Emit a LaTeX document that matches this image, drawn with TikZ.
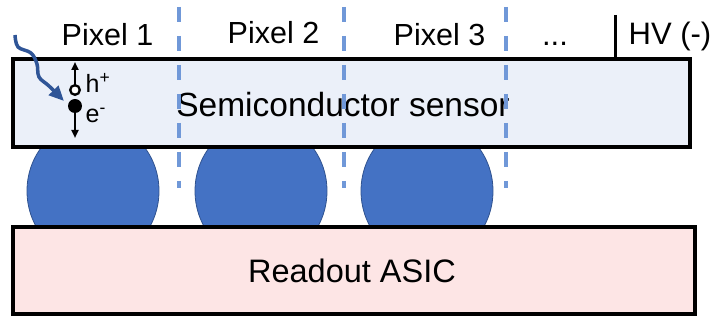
\documentclass[tikz,border=0pt]{standalone}
\usepackage{fontspec}
\setmainfont{Liberation Sans}
\usetikzlibrary{arrows.meta}
\definecolor{bumpfill}{HTML}{4472C4}
\definecolor{bumpline}{HTML}{2F528F}
\definecolor{sensorfill}{HTML}{EBF0F9}
\definecolor{asicfill}{HTML}{FDE5E5}
\definecolor{pixline}{HTML}{7098D8}
\definecolor{photon}{HTML}{2F5597}
\tikzset{
  layer/.style={draw=black, line width=4pt},
  bump/.style={fill=bumpfill, draw=bumpline, line width=0.8pt},
  pixsep/.style={draw=pixline, line width=4.5pt, dash pattern=on 15pt off 14pt},
  lbl/.style={inner sep=0pt, anchor=base, font=\fontsize{30.5}{35}\selectfont},
  chg/.style={inner sep=0pt, anchor=base west, font=\fontsize{25}{28}\selectfont},
  drift/.style={line width=2.2pt, -{Triangle[length=8pt,width=7pt]}},
}
\begin{document}
\begin{tikzpicture}[x=1pt,y=-1pt]
\useasboundingbox (0,0) rectangle (716,320);

% solder bumps between sensor and readout chip
\foreach \cx in {93,261,427}
  \path[bump] (\cx,191) ellipse [x radius=66, y radius=70];

% sensor and readout chip layers
\path[layer, fill=sensorfill] (13,59) rectangle (690,147);
\path[layer, fill=asicfill] (13,227) rectangle (695,314);
\node[lbl, font=\fontsize{33.5}{38}\selectfont] (sensor) at (343,117) {Semiconductor sensor};
\node[lbl, font=\fontsize{32.5}{37}\selectfont] (asic) at (352,283) {Readout ASIC};

% pixel boundaries
\foreach \px in {179,344,506}
  \draw[pixsep] (\px,7) -- (\px,188);

% pixel labels
\node[lbl] (p1) at (107.5,46) {Pixel 1};
\node[lbl] (p2) at (273.5,44) {Pixel 2};
\node[lbl] (p3) at (439.5,46) {Pixel 3};
\node[lbl, font=\fontsize{31}{35}\selectfont] (dots) at (555,46) {...};

% bias contact
\coordinate (hvtop) at (615,15);
\coordinate (hvbot) at (615,59);
\draw[line width=3pt] (hvtop) -- (hvbot);
\node[chg, font=\fontsize{31}{35}\selectfont] (hv) at (628.5,45) {HV (-)};

% electron-hole pair and drift directions
\coordinate (hole) at (75,90);
\coordinate (elec) at (75,106);
\coordinate (htip) at (75,62);
\coordinate (etip) at (75,138);
\draw[drift] (75,85) -- (htip);
\draw[drift] (75,112) -- (etip);
\fill[black] (elec) circle [radius=7];
\draw[line width=2.3pt, fill=white] (hole) circle [radius=4.8];
\node[chg] (hlab) at (85.5,93) {h\textsuperscript{+}};
\node[chg] (elab) at (85.5,123) {e\textsuperscript{-}};

% incoming radiation
\draw[photon, line width=3.5pt, -{Triangle[length=15pt,width=13pt]}]
  plot[smooth, tension=0.6] coordinates {(15,35) (18,47) (31,53) (37,64) (39,77) (49,86) (64,101)};
\end{tikzpicture}
\end{document}
